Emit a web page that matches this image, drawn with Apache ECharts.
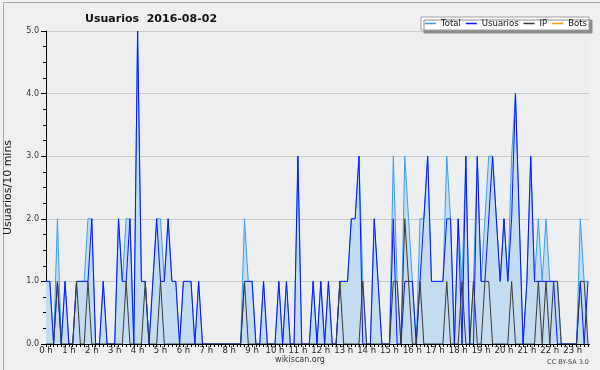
<!DOCTYPE html>
<html>
<head>
<meta charset="UTF-8">
<title>Usuarios 2016-08-02</title>
<script src="https://cdn.jsdelivr.net/npm/echarts@6/dist/echarts.min.js"></script>
<style>
  html, body { margin: 0; padding: 0; background: #f0f0f0; }
  #chart { width: 600px; height: 370px; }
</style>
</head>
<body>
<div id="chart"></div>
<script>
// one value every 10 minutes, 00:00 .. 23:40
var total = [
  1,1,0,2,0,1,0,0,1,1, 1,2,2,0,0,1,0,0,0,2, 1,2,2,0,5,1,1,0,1,2,
  2,1,2,1,1,0,1,1,1,0, 1,0,0,0,0,0,0,0,0,0, 0,0,2,1,1,0,0,1,0,0,
  0,1,0,1,0,0,3,0,0,0, 1,0,1,0,1,0,0,1,1,1, 2,2,3,1,0,0,2,1,0,0,
  0,3,1,0,3,2,1,0,2,2, 3,1,1,1,1,3,2,0,2,1, 3,0,1,3,1,2,3,3,2,1,
  2,1,3,4,2,0,1,3,1,2, 1,2,1,1,1,0,0,0,0,0, 2,1,1
];
var usuarios = [
  1,1,0,1,0,1,0,0,1,1, 1,1,2,0,0,1,0,0,0,2, 1,1,2,0,5,1,1,0,1,2,
  1,1,2,1,1,0,1,1,1,0, 1,0,0,0,0,0,0,0,0,0, 0,0,1,1,1,0,0,1,0,0,
  0,1,0,1,0,0,3,0,0,0, 1,0,1,0,1,0,0,1,1,1, 2,2,3,0,0,0,2,1,0,0,
  0,2,0,0,1,1,1,0,1,2, 3,1,1,1,1,2,2,0,2,0, 3,0,0,3,1,1,2,3,2,1,
  2,1,2,4,2,0,1,3,1,1, 1,1,1,1,0,0,0,0,0,0, 1,0,1
];
var ip = [
  0,0,0,1,0,0,0,0,1,0, 0,1,0,0,0,0,0,0,0,0, 0,1,0,0,0,0,1,0,0,0,
  1,0,0,0,0,0,0,0,0,0, 0,0,0,0,0,0,0,0,0,0, 0,0,1,0,0,0,0,0,0,0,
  0,0,0,0,0,0,0,0,0,0, 0,0,0,0,0,0,0,1,0,0, 0,0,0,1,0,0,0,0,0,0,
  0,1,1,0,2,1,0,0,1,0, 0,0,0,0,0,1,0,0,0,1, 0,0,1,0,0,1,1,0,0,0,
  0,0,1,0,0,0,0,0,0,1, 0,1,0,1,1,0,0,0,0,0, 1,1,0
];
var bots = [];
var hourLabels = ['0 h','1 h','2 h','3 h','4 h','5 h','6 h','7 h','8 h','9 h','10 h','11 h',
  '12 h','13 h','14 h','15 h','16 h','17 h','18 h','19 h','20 h','21 h','22 h','23 h'];
var yLabels = ['0.0', '1.0', '2.0', '3.0', '4.0', '5.0'];

var font = 'DejaVu Sans';
function pts(arr) { return arr.map(function (v, i) { return [i, v]; }); }

var chart = echarts.init(document.getElementById('chart'));
chart.setOption({
  animation: false,
  backgroundColor: '#f0f0f0',
  textStyle: { fontFamily: font },
  title: {
    text: 'Usuarios  2016-08-02',
    left: 80, top: 9,
    textStyle: { fontFamily: font, fontSize: 11, fontWeight: 'bold', color: '#111' }
  },
  legend: {
    right: 11, top: 17,
    padding: [2, 2, 2, 4],
    itemGap: 5, itemWidth: 11, itemHeight: 1.5,
    icon: 'rect',
    backgroundColor: '#fff',
    borderColor: '#a0a0a0', borderWidth: 1,
    shadowColor: '#8c8c8c', shadowBlur: 0, shadowOffsetX: 3, shadowOffsetY: 3,
    textStyle: { fontFamily: font, fontSize: 8.5, color: '#111' },
    data: ['Total', 'Usuarios', 'IP', 'Bots']
  },
  grid: {
    left: 46, right: 10.5, top: 31, bottom: 26,
    outerBoundsMode: 'none', containLabel: false,
    show: true, backgroundColor: '#edeef0', borderWidth: 0
  },
  xAxis: {
    type: 'value', min: 0, max: 142.4, interval: 1, z: 10,
    axisLine: { lineStyle: { color: '#000', width: 1 } },
    axisTick: { length: 3, lineStyle: { color: '#000' } },
    splitLine: { show: false },
    axisLabel: {
      margin: 2, fontSize: 8.5, color: '#222', fontFamily: font,
      showMaxLabel: false,
      formatter: function (v) { return v % 6 === 0 ? hourLabels[v / 6] : ''; }
    }
  },
  yAxis: {
    type: 'value', min: 0, max: 5, interval: 1,
    name: 'Usuarios/10 mins', nameLocation: 'middle', nameRotate: 90, nameGap: 32,
    nameTextStyle: { fontFamily: font, fontSize: 11, color: '#111' },
    axisLine: { show: true, lineStyle: { color: '#000' } },
    axisTick: { show: true, length: 5, lineStyle: { color: '#000' } },
    minorTick: { show: true, splitNumber: 4, length: 3, lineStyle: { color: '#000' } },
    splitLine: { lineStyle: { color: '#c9c9cb', width: 1 } },
    axisLabel: {
      margin: 7, fontSize: 8, color: '#333', fontFamily: font,
      formatter: function (v) { return yLabels[v]; }
    }
  },
  series: [
    {
      name: 'Total', type: 'line', symbol: 'none', z: 2,
      data: pts(total),
      lineStyle: { color: '#3d9cf0', width: 1 },
      itemStyle: { color: '#3d9cf0' },
      areaStyle: { color: '#c4dcf0', opacity: 1 }
    },
    {
      name: 'Usuarios', type: 'line', symbol: 'none', z: 3,
      data: pts(usuarios),
      lineStyle: { color: '#0a14ff', width: 1 },
      itemStyle: { color: '#0a14ff' }
    },
    {
      name: 'IP', type: 'line', symbol: 'none', z: 4,
      data: pts(ip),
      lineStyle: { color: '#3a3a3a', width: 1 },
      itemStyle: { color: '#3a3a3a' }
    },
    {
      name: 'Bots', type: 'line', symbol: 'none', z: 5,
      data: pts(bots),
      lineStyle: { color: '#ff9900', width: 1 },
      itemStyle: { color: '#ff9900' }
    }
  ],
  graphic: [
    { type: 'rect', left: 1, top: 0, shape: { width: 597, height: 368 },
      style: { fill: 'none', stroke: '#a8a8a8', lineWidth: 1 }, silent: true },
    { type: 'text', left: 'center', top: 356,
      style: { text: 'wikiscan.org', font: '8px "DejaVu Sans"', fill: '#333' } },
    { type: 'text', right: 11, top: 359,
      style: { text: 'CC BY-SA 3.0', font: '6.5px "DejaVu Sans"', fill: '#444' } }
  ]
});
</script>
</body>
</html>
